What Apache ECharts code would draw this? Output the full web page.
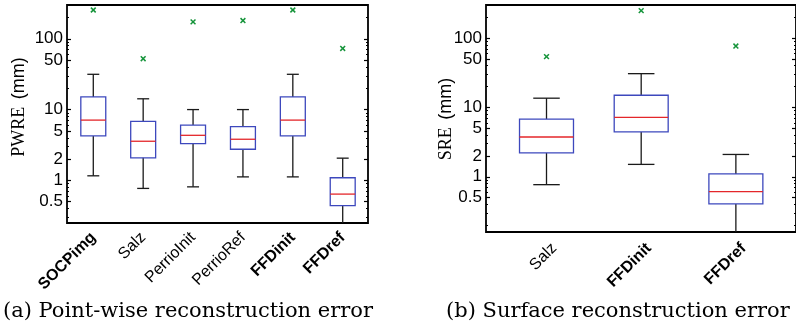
<!DOCTYPE html>
<html><head><meta charset="utf-8">
<script src="https://cdn.jsdelivr.net/npm/echarts@6/dist/echarts.min.js"></script>
<style>html,body{margin:0;padding:0;background:#fff}#c{width:796px;height:328px}</style>
</head><body><div id="c"></div>
<script>
// ---- data ----
const pwreCategories = ['SOCPimg','Salz','PerrioInit','PerrioRef','FFDinit','FFDref'];
const pwreBold = [true,false,false,false,true,true];
// [whisker low, q1, median, q3, whisker high]
const pwreBoxes = [
  [1.16, 4.24, 7.1, 15.1, 31.5],
  [0.77, 2.08, 3.57, 6.81, 14.2],
  [0.81, 3.31, 4.33, 6.04, 10.0],
  [1.12, 2.75, 3.81, 5.74, 10.0],
  [1.12, 4.24, 7.1, 15.1, 31.5],
  [0.20, 0.44, 0.64, 1.09, 2.06]
];
const pwreOutliers = [255, 52.3, 173, 181, 255, 73];

const sreCategories = ['Salz','FFDinit','FFDref'];
const sreBold = [false,true,true];
const sreBoxes = [
  [0.77, 2.21, 3.75, 6.8, 13.6],
  [1.51, 4.43, 7.19, 15.0, 30.7],
  [0.14, 0.406, 0.61, 1.10, 2.10]
];
const sreOutliers = [54, 249, 76.8];

const yMajorTicks = [0.5, 1, 2, 5, 10, 50, 100];
const yMinorTicks = [0.2,0.3,0.4,0.6,0.7,0.8,0.9,3,4,6,7,8,9,20,30,40,60,70,80,90,200,300];
const yTickLabels = ['0.5','1','2','5','10','50','100'];

// ---- styles ----
const SANS = "'Liberation Sans', Arial, Helvetica, sans-serif";
const SERIF = "'Liberation Serif', 'Times New Roman', serif";
const BOX_COLOR = '#3d48bd', MED_COLOR = '#e4262a', WHISK_COLOR = '#1a1a1a', OUT_COLOR = '#15943a';
const chart = echarts.init(document.getElementById('c'), null, {renderer:'canvas'});

function boxRender(boxW, capW){
  return function(params, api){
    const cs = params.coordSys;
    const yb = cs.y + cs.height, yt = cs.y;
    const x = api.value(0);
    const p = i => api.coord([x, api.value(i)]);
    const cx = p(1)[0];
    const yLow = p(1)[1], yQ1 = p(2)[1], yMed = p(3)[1], yQ3 = p(4)[1], yHigh = p(5)[1];
    const hw = api.size([boxW, 0])[0] / 2, cw = api.size([capW, 0])[0] / 2;
    const cl = v => Math.max(yt, Math.min(yb, v));
    const ls = {stroke: WHISK_COLOR, lineWidth: 1.3};
    const ch = [];
    ch.push({type:'line', shape:{x1:cx, y1:yQ3, x2:cx, y2:cl(yHigh)}, style:ls});
    if (yHigh >= yt) ch.push({type:'line', shape:{x1:cx-cw, y1:yHigh, x2:cx+cw, y2:yHigh}, style:ls});
    ch.push({type:'line', shape:{x1:cx, y1:yQ1, x2:cx, y2:cl(yLow)}, style:ls});
    if (yLow <= yb) ch.push({type:'line', shape:{x1:cx-cw, y1:yLow, x2:cx+cw, y2:yLow}, style:ls});
    ch.push({type:'rect', shape:{x:cx-hw, y:yQ3, width:2*hw, height:yQ1-yQ3}, style:{fill:'none', stroke:BOX_COLOR, lineWidth:1.3}});
    ch.push({type:'line', shape:{x1:cx-hw, y1:yMed, x2:cx+hw, y2:yMed}, style:{stroke:MED_COLOR, lineWidth:1.3}});
    return {type:'group', children: ch};
  };
}
function outRender(params, api){
  const pt = api.coord([api.value(0), api.value(1)]);
  const s = 2.4;
  const st = {stroke: OUT_COLOR, lineWidth: 1.5};
  return {type:'group', children:[
    {type:'line', shape:{x1:pt[0]-s, y1:pt[1]-s, x2:pt[0]+s, y2:pt[1]+s}, style:st},
    {type:'line', shape:{x1:pt[0]-s, y1:pt[1]+s, x2:pt[0]+s, y2:pt[1]-s}, style:st}
  ]};
}

function yAxes(gridIndex, min, max, showLabels){
  const base = {type:'log', logBase:10, gridIndex, min, max, splitLine:{show:false},
    axisLine:{show:false}};
  return [
    Object.assign({}, base, {position:'left',
      axisTick:{show:true, inside:true, length:4, customValues:yMajorTicks, lineStyle:{color:'#000', width:1.2}},
      axisLabel:{show:showLabels, customValues:yMajorTicks, margin:4, color:'#000',
        fontFamily:SANS, fontSize:17,
        formatter: v => { const i = yMajorTicks.findIndex(t => Math.abs(t - v) < 1e-6*t); return i >= 0 ? yTickLabels[i] : ''; }}}),
    Object.assign({}, base, {position:'left',
      axisTick:{show:true, inside:true, length:2, customValues:yMinorTicks, lineStyle:{color:'#000', width:1}},
      axisLabel:{show:false}}),
    Object.assign({}, base, {position:'right',
      axisTick:{show:true, inside:true, length:4, customValues:yMajorTicks, lineStyle:{color:'#000', width:1.2}},
      axisLabel:{show:false}}),
    Object.assign({}, base, {position:'right',
      axisTick:{show:true, inside:true, length:2, customValues:yMinorTicks, lineStyle:{color:'#000', width:1}},
      axisLabel:{show:false}})
  ];
}
function xAxis(gridIndex, min, max, cats, bold, margin, padTop){
  const vals = cats.map((c, i) => i + 1);
  return {type:'value', gridIndex, min, max, splitLine:{show:false}, axisLine:{show:false},
    axisTick:{show:false},
    axisLabel:{customValues: vals, rotate:45, margin, padding:[padTop,0,0,0], color:'#000', fontFamily:SANS, fontSize:16,
      formatter: v => { const i = Math.round(v) - 1; return bold[i] ? '{b|' + cats[i] + '}' : '{n|' + cats[i] + '}'; },
      rich:{ b:{fontWeight:'bold', fontFamily:SANS, fontSize:16, color:'#000'},
             n:{fontFamily:SANS, fontSize:16, color:'#000'} }}};
}

const boxData = (boxes) => boxes.map((b, i) => [i + 1].concat(b));
const outData = (outs) => outs.map((v, i) => [i + 1, v]);

const titleRich = {s:{fontFamily:SERIF, fontSize:18, fill:'#000', padding:[0,4,0,0]}, m:{fontFamily:SANS, fontSize:18, fill:'#000'}};

const option = {
  animation: false,
  backgroundColor: '#fff',
  grid: [
    {left:67, right:428, top:5, bottom:105, show:true, borderColor:'#000', borderWidth:1.8, backgroundColor:'transparent'},
    {left:486, right:-1, top:5, bottom:96, show:true, borderColor:'#000', borderWidth:1.8, backgroundColor:'transparent'}
  ],
  xAxis: [
    xAxis(0, 0.473, 6.507, pwreCategories, pwreBold, 12, 0),
    xAxis(1, 0.361, 3.635, sreCategories, sreBold, 6, 22)
  ],
  yAxis: yAxes(0, 0.25, 300, true).concat(yAxes(1, 0.16, 300, true)),
  series: [
    {type:'custom', xAxisIndex:0, yAxisIndex:0, renderItem: boxRender(0.5, 0.24), data: boxData(pwreBoxes), encode:{x:0, y:[1,2,3,4,5]}, silent:true},
    {type:'custom', xAxisIndex:0, yAxisIndex:0, renderItem: outRender, data: outData(pwreOutliers), encode:{x:0, y:1}, silent:true},
    {type:'custom', xAxisIndex:1, yAxisIndex:4, renderItem: boxRender(0.57, 0.28), data: boxData(sreBoxes), encode:{x:0, y:[1,2,3,4,5]}, silent:true},
    {type:'custom', xAxisIndex:1, yAxisIndex:4, renderItem: outRender, data: outData(sreOutliers), encode:{x:0, y:1}, silent:true}
  ],
  graphic: [
    {type:'text', x:19, y:107, rotation:Math.PI/2, style:{text:'{s|PWRE} {m|(mm)}', align:'center', verticalAlign:'middle', rich:titleRich}},
    {type:'text', x:446, y:119, rotation:Math.PI/2, style:{text:'{s|SRE} {m|(mm)}', align:'center', verticalAlign:'middle', rich:titleRich}},
    {type:'text', x:3, y:312, style:{text:'(a) Point-wise reconstruction error', align:'left', verticalAlign:'middle',
      font:'21px "DejaVu Serif"', fill:'#000'}},
    {type:'text', x:446, y:312, style:{text:'(b) Surface reconstruction error', align:'left', verticalAlign:'middle',
      font:'21px "DejaVu Serif"', fill:'#000'}}
  ]
};
chart.setOption(option);
</script></body></html>
